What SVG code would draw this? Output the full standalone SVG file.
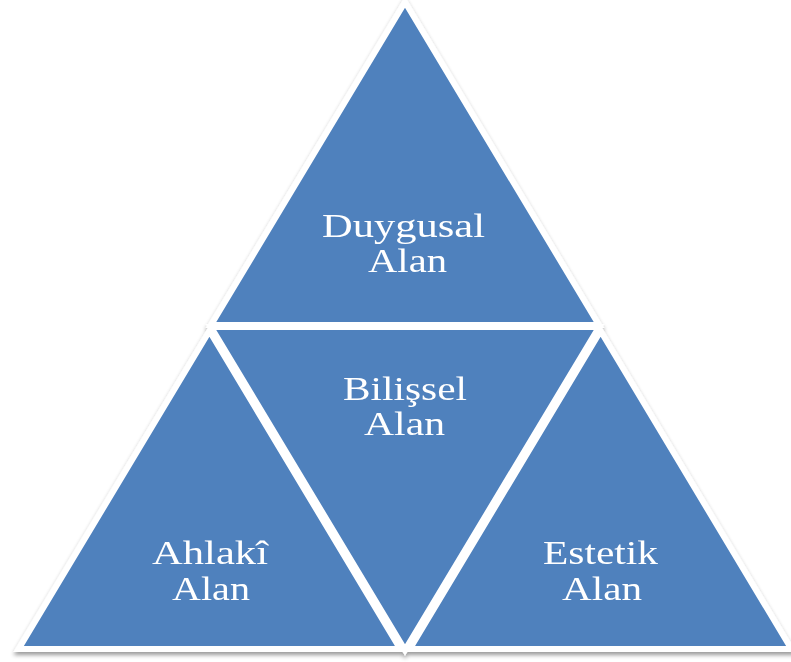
<svg xmlns="http://www.w3.org/2000/svg" width="791" height="662" viewBox="0 0 791 662">
  <defs>
    <filter id="shadow" x="-5%" y="-5%" width="110%" height="112%">
      <feGaussianBlur in="SourceAlpha" stdDeviation="2"/>
      <feOffset dx="0" dy="3" result="blur"/>
      <feComponentTransfer><feFuncA type="linear" slope="0.4"/></feComponentTransfer>
      <feMerge><feMergeNode/><feMergeNode in="SourceGraphic"/></feMerge>
    </filter>
  </defs>
  <style>
    .tri { fill: #4F81BD; stroke: #FFFFFF; stroke-width: 6; stroke-linejoin: miter; }
    .lbl { font-family: "Liberation Serif", "Times New Roman", serif; font-size: 33px; fill: #FFFFFF; }
  </style>
  <rect width="791" height="662" fill="#FFFFFF"/>
  <g filter="url(#shadow)">
    <g id="duygusal">
      <polygon class="tri" points="405,2 211,325 599,325"/>
      <text class="lbl" x="322" y="237" textLength="163" lengthAdjust="spacingAndGlyphs">Duygusal</text>
      <text class="lbl" x="368" y="272" textLength="79" lengthAdjust="spacingAndGlyphs">Alan</text>
    </g>
    <g id="bilissel">
      <polygon class="tri" points="211,327 599,327 405,650"/>
      <text class="lbl" x="343" y="400" textLength="124" lengthAdjust="spacingAndGlyphs">Bilişsel</text>
      <text class="lbl" x="364" y="435" textLength="81" lengthAdjust="spacingAndGlyphs">Alan</text>
    </g>
    <g id="ahlaki">
      <polygon class="tri" points="209.4,331 18.6,649 400.2,649"/>
      <text class="lbl" x="152" y="564" textLength="116" lengthAdjust="spacingAndGlyphs">Ahlakî</text>
      <text class="lbl" x="172" y="600" textLength="78" lengthAdjust="spacingAndGlyphs">Alan</text>
    </g>
    <g id="estetik">
      <polygon class="tri" points="600.6,331 409.8,649 791.4,649"/>
      <text class="lbl" x="543" y="564" textLength="115" lengthAdjust="spacingAndGlyphs">Estetik</text>
      <text class="lbl" x="562" y="600" textLength="80" lengthAdjust="spacingAndGlyphs">Alan</text>
    </g>
  </g>
  <g id="connectors"/>
</svg>
